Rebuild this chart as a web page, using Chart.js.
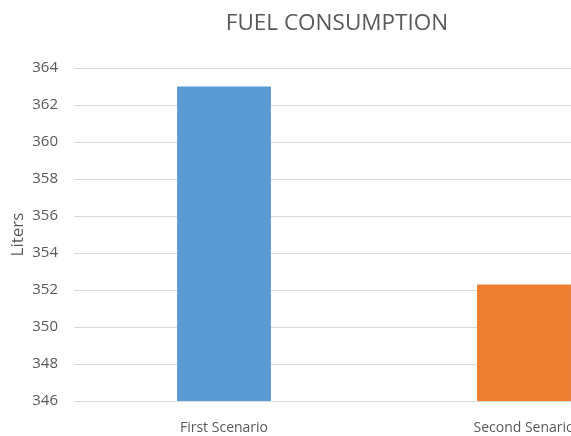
<!DOCTYPE html>
<html>
<head>
<meta charset="utf-8">
<script src="https://cdn.jsdelivr.net/npm/chart.js@4/dist/chart.umd.min.js"></script>
<style>
  html, body { margin: 0; padding: 0; background: #fff; overflow: hidden; }
  #wrap { width: 680px; height: 436px; }
</style>
</head>
<body>
<div id="wrap"><canvas id="fuel" width="680" height="436"></canvas></div>
<script>
// data
const categories = ['First Scenario', 'Second Senario'];
const liters = [363.0, 352.3];
const barColors = ['#5B9BD5', '#ED7D31'];
const yMin = 346, yMax = 364, yStep = 2;

const GREY = '#595959';
const GRID = '#D9D9D9';
const FONT = "'Open Sans', sans-serif";

new Chart(document.getElementById('fuel'), {
  type: 'bar',
  data: {
    labels: categories,
    datasets: [{
      data: liters,
      backgroundColor: barColors,
      borderWidth: 0,
      categoryPercentage: 1,
      barPercentage: 0.313,
    }],
  },
  options: {
    responsive: false,
    animation: false,
    layout: { padding: { left: 0, right: 6, top: 0, bottom: 0 } },
    plugins: {
      legend: { display: false },
      tooltip: { enabled: false },
      title: {
        display: true,
        text: 'FUEL CONSUMPTION',
        color: GREY,
        font: { family: FONT, size: 22.5, weight: 'normal', lineHeight: 1.2 },
        padding: { top: 10, bottom: 31 },
      },
    },
    scales: {
      x: {
        grid: { display: false },
        border: { display: false },
        ticks: { color: GREY, font: { family: FONT, size: 14 }, padding: 11, maxRotation: 0 },
        afterFit: s => { s.height = 35; },
      },
      y: {
        min: yMin,
        max: yMax,
        grid: { color: GRID, drawTicks: false, lineWidth: 1 },
        border: { display: false },
        ticks: { stepSize: yStep, color: GREY, font: { family: FONT, size: 15 }, padding: 16 },
        title: { display: true, text: 'Liters', color: GREY, font: { family: FONT, size: 17 }, padding: { top: 8, bottom: 0 } },
        afterFit: s => { s.width = 74; },
      },
    },
  },
});
</script>
</body>
</html>
